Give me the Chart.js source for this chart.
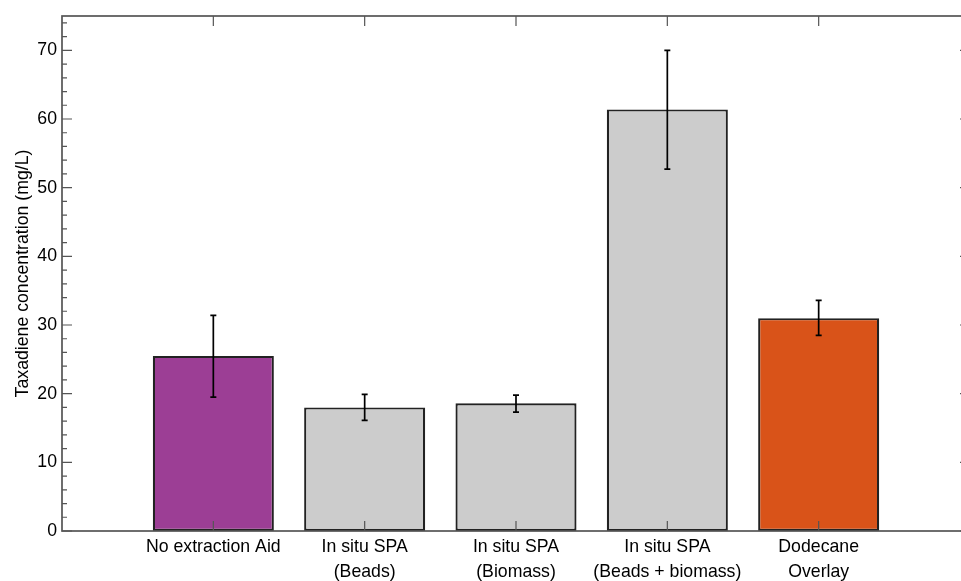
<!DOCTYPE html>
<html>
<head>
<meta charset="utf-8">
<script src="https://cdn.jsdelivr.net/npm/chart.js@4/dist/chart.umd.min.js"></script>
<style>
  html, body { margin: 0; padding: 0; background: #fff; overflow: hidden; }
  canvas { display: block; }
</style>
</head>
<body>
<canvas id="c" width="972" height="581"></canvas>
<script>
// Taxadiene titre by extraction strategy
const categories = [
  ['No extraction Aid'],
  ['In situ SPA', '(Beads)'],
  ['In situ SPA', '(Biomass)'],
  ['In situ SPA', '(Beads + biomass)'],
  ['Dodecane', 'Overlay']
];
const meanValues = [25.5, 18.0, 18.6, 61.4, 31.0];
const errUpper   = [31.4, 19.9, 19.8, 70.0, 33.6];
const errLower   = [19.5, 16.1, 17.3, 52.7, 28.5];
const barColors  = ['#9C3E95', '#CCCCCC', '#CCCCCC', '#CCCCCC', '#D95319'];
const yMajorTicks = [0, 10, 20, 30, 40, 50, 60, 70];
const yMinorTicks = [2, 4, 6, 8, 12, 14, 16, 18, 22, 24, 26, 28, 32, 34, 36, 38, 42, 44, 46, 48, 52, 54, 56, 58, 62, 64, 66, 68, 72, 74];
const xPositions = categories.map((_, i) => i + 1);

const FONT = '"Liberation Sans", Arial, Helvetica, sans-serif';
const AXIS_COLOR = '#555555';

// Error bars, box outline and inward tick marks
const boxAndErrors = {
  id: 'boxAndErrors',
  afterDatasetsDraw(chart) {
    const ctx = chart.ctx;
    const xs = chart.scales.x, ys = chart.scales.y;
    const a = chart.chartArea;
    ctx.save();

    // error bars
    ctx.strokeStyle = '#000';
    ctx.lineWidth = 1.7;
    const cap = 3;
    xPositions.forEach((xv, i) => {
      const px = xs.getPixelForValue(xv);
      const pTop = ys.getPixelForValue(errUpper[i]);
      const pBot = ys.getPixelForValue(errLower[i]);
      ctx.beginPath();
      ctx.moveTo(px, pTop); ctx.lineTo(px, pBot);
      ctx.moveTo(px - cap, pTop); ctx.lineTo(px + cap, pTop);
      ctx.moveTo(px - cap, pBot); ctx.lineTo(px + cap, pBot);
      ctx.stroke();
    });

    // ticks
    ctx.strokeStyle = AXIS_COLOR;
    ctx.lineWidth = 1.2;
    ctx.beginPath();
    yMajorTicks.forEach(v => {
      const py = ys.getPixelForValue(v);
      ctx.moveTo(a.left, py); ctx.lineTo(a.left + 10, py);
      ctx.moveTo(a.right, py); ctx.lineTo(a.right - 10, py);
    });
    yMinorTicks.forEach(v => {
      const py = ys.getPixelForValue(v);
      ctx.moveTo(a.left, py); ctx.lineTo(a.left + 5, py);
      ctx.moveTo(a.right, py); ctx.lineTo(a.right - 5, py);
    });
    xPositions.forEach(v => {
      const px = xs.getPixelForValue(v);
      ctx.moveTo(px, a.bottom); ctx.lineTo(px, a.bottom - 10);
      ctx.moveTo(px, a.top); ctx.lineTo(px, a.top + 10);
    });
    ctx.stroke();

    // box
    ctx.lineWidth = 1.7;
    ctx.strokeRect(a.left, a.top, a.right - a.left, a.bottom - a.top);
    ctx.restore();
  }
};

new Chart(document.getElementById('c'), {
  type: 'bar',
  data: {
    datasets: [{
      data: xPositions.map((x, i) => ({ x: x, y: meanValues[i] })),
      backgroundColor: barColors,
      borderColor: '#222222',
      borderWidth: 2.2,
      borderSkipped: false,
      barPercentage: 0.8,
      categoryPercentage: 1.0
    }]
  },
  options: {
    responsive: false,
    animation: false,
    layout: { padding: { top: 16, right: 2, left: 0, bottom: 0 } },
    plugins: { legend: { display: false }, tooltip: { enabled: false } },
    scales: {
      x: {
        type: 'linear',
        offset: false,
        min: 0,
        max: 6,
        grid: { display: false, drawTicks: false, offset: false },
        border: { display: false },
        afterBuildTicks: s => { s.ticks = xPositions.map(v => ({ value: v })); },
        afterFit: s => { s.height = 50; },
        ticks: {
          autoSkip: false,
          maxRotation: 0,
          padding: 4,
          color: '#000',
          font: { family: FONT, size: 17.7, lineHeight: 1.38 },
          callback: v => categories[v - 1] || ''
        }
      },
      y: {
        min: 0,
        max: 75,
        grid: { display: false, drawTicks: false },
        border: { display: false },
        afterBuildTicks: s => { s.ticks = yMajorTicks.map(v => ({ value: v })); },
        afterFit: s => { s.width = 62; },
        ticks: {
          padding: 5,
          color: '#000',
          font: { family: FONT, size: 17.7 }
        },
        title: {
          display: true,
          text: 'Taxadiene concentration (mg/L)',
          color: '#000',
          font: { family: FONT, size: 17.7 },
          padding: { top: 12, bottom: 2 }
        }
      }
    }
  },
  plugins: [boxAndErrors]
});
</script>
</body>
</html>
